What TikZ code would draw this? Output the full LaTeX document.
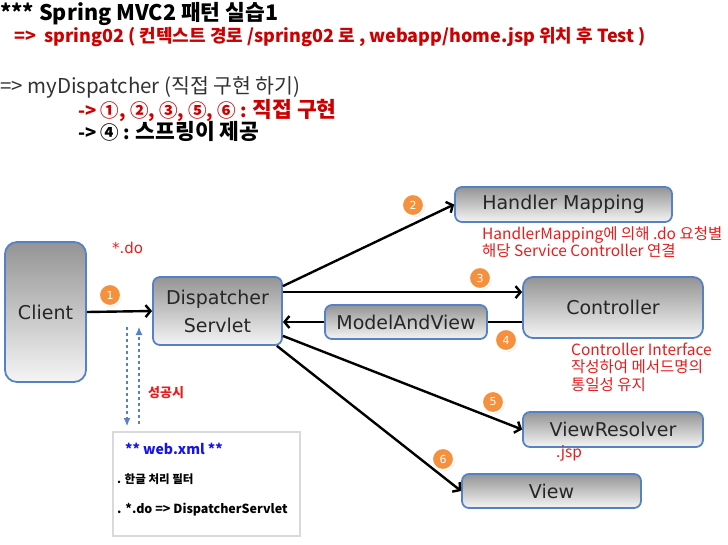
\documentclass[tikz,border=0pt]{standalone}
\usepackage{fontspec}
\setmainfont{Noto Sans CJK KR}
\newfontfamily\boxfont{DejaVu Sans}
\usepackage{tikz}
\usetikzlibrary{arrows.meta, shadows}
\definecolor{titlered}{RGB}{204,0,0}
\definecolor{notered}{RGB}{228,30,30}
\definecolor{frameblue}{RGB}{84,130,197}
\definecolor{badgeorange}{RGB}{245,145,60}
\definecolor{xmlblue}{RGB}{20,20,240}
\definecolor{darktext}{RGB}{50,50,50}
\begin{document}
\begin{tikzpicture}[x=1pt, y=-1pt,
    >={Straight Barb[length=5pt,width=12pt]},
    box/.style={draw=frameblue, line width=1.8pt, rounded corners=7pt, top color=black!42, bottom color=black!4,
      text=black!85, align=center, inner sep=0pt, font=\boxfont\fontsize{19}{28}\selectfont},
    flow/.style={->, line width=2.4pt},
    badge/.style={circle, fill=badgeorange, draw=white, line width=2pt, minimum size=22pt, inner sep=0pt,
      text=white, font=\boxfont\fontsize{11}{11}\selectfont,
      drop shadow={opacity=0.3, shadow xshift=0.8pt, shadow yshift=-1.2pt}},
    note/.style={text=notered, anchor=west, align=left, inner sep=0pt, font=\fontsize{15.5}{17.5}\selectfont},
    line/.style={anchor=west, inner sep=0pt},
    okline/.style={frameblue, dashed, line width=1.1pt, -{Latex[length=8pt,width=7pt]}}]
  % Bildbereich
  \useasboundingbox (0,0) rectangle (728,544);
  % Kopfzeilen
  \node[line, font=\bfseries\fontsize{21.5}{21.5}\selectfont] (title) at (0,14) {*** Spring MVC2 패턴 실습1};
  \node[line, text=titlered, font=\bfseries\fontsize{18}{18}\selectfont] (sub) at (14,37)
    {=>~ spring02 ( 컨텍스트 경로 /spring02 로 , webapp/home.jsp 위치 후 Test )};
  \node[line, text=darktext, font=\fontsize{20.5}{20.5}\selectfont] (mydisp) at (0,87) {=> myDispatcher (직접 구현 하기)};
  \node[line, text=titlered, font=\bfseries\fontsize{18.5}{18.5}\selectfont] (own) at (78,110)
    {-> ①, ②, ③, ⑤, ⑥ : {\fontsize{21.5}{21.5}\selectfont 직접 구현}};
  \node[line, font=\bfseries\fontsize{18.5}{18.5}\selectfont] (lib) at (78,131)
    {-> ④ : {\fontsize{21.5}{21.5}\selectfont 스프링이 제공}};
  % Kaesten
  \node[box, rounded corners=12pt, minimum width=81pt, minimum height=140pt] (client) at (45.5,312) {Client};
  \node[box, minimum width=129pt, minimum height=68pt] (disp) at (217.5,311) {Dispatcher\\Servlet};
  \node[box, minimum width=217pt, minimum height=35pt] (handler) at (563.5,204.5) {Handler Mapping};
  \node[box, rounded corners=10pt, minimum width=180pt, minimum height=61pt] (ctrl) at (613,307.5) {Controller};
  \node[box, minimum width=162pt, minimum height=34pt] (mav) at (406,322) {ModelAndView};
  \node[box, minimum width=180pt, minimum height=35pt] (vres) at (613,429.5) {ViewResolver};
  \node[box, minimum width=179pt, minimum height=34pt] (view) at (551.5,491) {View};
  % Pfeile
  \coordinate (d3) at ([yshift=-16pt]disp.north east);
  \draw[flow] (client.east) -- (disp.west);
  \draw[flow] ([yshift=-10pt]disp.north east) -- (handler.west);
  \draw[flow] (d3) -- (d3 -| ctrl.west);
  \draw[line width=2.4pt] (ctrl.west |- mav.east) -- (mav.east);
  \draw[flow] (mav.west) -- (mav.west -| disp.east);
  \draw[flow] ([yshift=10pt]disp.south east) -- (vres.west);
  \draw[flow] ([xshift=-6pt]disp.south east) -- (view.west);
  % Nummern
  \foreach \n/\x/\y in {1/110/295, 2/413/205, 3/480/278, 4/506/340, 5/493/402, 6/443/459}
    \node[badge] (b\n) at (\x,\y) {\n};
  % web.xml
  \node[draw=black!15, line width=2pt, minimum width=187pt, minimum height=104pt, inner sep=0pt] (webxml) at (206.5,484) {};
  \node[line, text=xmlblue, font=\bfseries\fontsize{14}{14}\selectfont] (xml1) at (125,449) {** web.xml **};
  \node[line, font=\bfseries\fontsize{11.5}{11.5}\selectfont] (xml2) at (117,479) {. 한글 처리 필터};
  \node[line, font=\bfseries\fontsize{12.5}{12.5}\selectfont] (xml3) at (117,510) {. *.do => DispatcherServlet};
  \coordinate (down) at (127,327);
  \coordinate (up) at (139,327);
  \draw[okline, shorten >=5pt] (down) -- (down |- webxml.north);
  \draw[okline, shorten <=7pt] (up |- webxml.north) -- (up);
  % Beschriftung
  \node[text=notered, font=\boxfont\fontsize{15}{15}\selectfont, inner sep=0pt] (ext) at (127.5,248) {*.do};
  \node[line, text=notered, font=\bfseries\fontsize{13}{13}\selectfont] (ok) at (148,393) {성공시};
  \node[note] (hmnote) at (482,242) {HandlerMapping에 의해 .do 요청별\\해당 Service Controller 연결};
  \node[note] (ctrlnote) at (571,367) {Controller Interface\\작성하여 메서드명의\\통일성 유지};
  \node[note] (jsp) at (556,453) {.jsp};
\end{tikzpicture}
\end{document}
